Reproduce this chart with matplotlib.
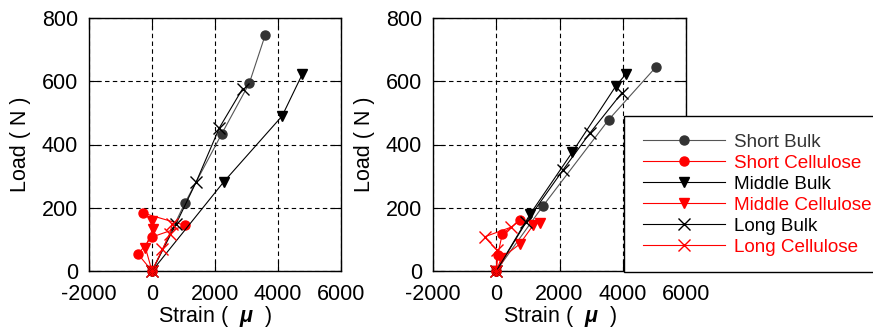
import matplotlib
matplotlib.use('Agg')
import matplotlib.pyplot as plt
from matplotlib.patches import Rectangle
from matplotlib.lines import Line2D

plt.rcParams['font.family'] = ['Liberation Sans', 'DejaVu Sans']
plt.rcParams['mathtext.fontset'] = 'custom'
plt.rcParams['mathtext.it'] = 'Liberation Sans:italic:bold'
plt.rcParams['mathtext.rm'] = 'Liberation Sans'
plt.rcParams['axes.unicode_minus'] = False

# left panel
l_sb_x = [0, 1040, 2210, 3090, 3590]
l_sb_y = [0, 214, 433, 594, 745]
l_sc_x = [0, -440, -15, 1060, -280]
l_sc_y = [0, 53, 107, 144, 183]
l_mb_x = [0, 2270, 4130, 4770]
l_mb_y = [0, 281, 490, 622]
l_mc_x = [0, -210, 20, -15]
l_mc_y = [0, 74, 134, 157]
l_lb_x = [0, 760, 1400, 2140, 2880]
l_lb_y = [0, 148, 281, 453, 577]
l_lc_x = [0, 330, 560, 650]
l_lc_y = [0, 68, 118, 150]

# right panel
r_sb_x = [0, 1480, 3560, 5050]
r_sb_y = [0, 206, 479, 645]
r_sc_x = [0, 50, 190, 760]
r_sc_y = [0, 50, 118, 160]
r_mb_x = [0, 1080, 2400, 3790, 4110]
r_mb_y = [0, 181, 375, 586, 624]
r_mc_x = [0, 160, 740, 1170, 1380]
r_mc_y = [0, 40, 85, 145, 153]
r_lb_x = [0, 950, 2100, 2960, 3970]
r_lb_y = [0, 155, 318, 436, 563]
r_lc_x = [0, 30, -370, 480]
r_lc_y = [0, 65, 108, 139]

names = ['Short Bulk', 'Short Cellulose', 'Middle Bulk',
         'Middle Cellulose', 'Long Bulk', 'Long Cellulose']
line_cols = ['#555555', 'red', 'black', 'red', 'black', 'red']
mark_cols = ['#333333', 'red', 'black', 'red', 'black', 'red']
text_cols = ['#333333', 'red', 'black', 'red', 'black', 'red']
markers = ['o', 'o', 'v', 'v', 'x', 'x']

fig = plt.figure(figsize=(8.73, 3.31), dpi=100)
W, H = 873, 331
ax1 = fig.add_axes([89 / W, 1 - 271 / H, 252 / W, 253 / H])
ax2 = fig.add_axes([433 / W, 1 - 271 / H, 253 / W, 253 / H])

panels = [
    (ax1, [(l_sb_x, l_sb_y), (l_sc_x, l_sc_y), (l_mb_x, l_mb_y),
           (l_mc_x, l_mc_y), (l_lb_x, l_lb_y), (l_lc_x, l_lc_y)]),
    (ax2, [(r_sb_x, r_sb_y), (r_sc_x, r_sc_y), (r_mb_x, r_mb_y),
           (r_mc_x, r_mc_y), (r_lb_x, r_lb_y), (r_lc_x, r_lc_y)]),
]

for ax, series in panels:
    for i, (xs, ys) in enumerate(series):
        ms = 8 if markers[i] == 'x' else 6.5
        ax.plot(xs, ys, color=line_cols[i], lw=0.8, marker=markers[i],
                ms=ms, mfc=mark_cols[i], mec=mark_cols[i], mew=1.0,
                clip_on=False, zorder=3)
    ax.set_xlim(-2000, 6000)
    ax.set_ylim(0, 800)
    ax.set_xticks([-2000, 0, 2000, 4000, 6000])
    ax.set_yticks([0, 200, 400, 600, 800])
    ax.grid(True, color='black', lw=0.8, linestyle=(0, (4, 3)))
    ax.tick_params(direction='in', length=8, width=0.8, top=True, right=True,
                   labelsize=15.5, colors='black')
    ax.tick_params(axis='x', pad=9.5)
    ax.tick_params(axis='y', pad=8)
    for s in ax.spines.values():
        s.set_linewidth(1.0)
    ax.set_xlabel('Strain (  $\\mu$  )', fontsize=15.5, labelpad=-1)
    ax.set_ylabel('Load ( N )', fontsize=15.5, labelpad=8)

# legend box running off the right edge
box = Rectangle((624 / W, 1 - 272 / H), 260 / W, 156 / H,
                transform=fig.transFigure, facecolor='white',
                edgecolor='black', lw=1.0, zorder=5)
fig.patches.append(box)

handles = []
for i in range(6):
    ms = 8 if markers[i] == 'x' else 6.5
    handles.append(Line2D([0], [0], color=line_cols[i], lw=0.8,
                          marker=markers[i], ms=ms, mfc=mark_cols[i],
                          mec=mark_cols[i]))
leg = fig.legend(handles, names, loc='upper left',
                 bbox_to_anchor=(634 / W, 1 - 124 / H), frameon=False,
                 fontsize=13.6, handlelength=4.3, handletextpad=0.5,
                 labelspacing=0.2, borderpad=0)
leg.set_zorder(6)
for t, c in zip(leg.get_texts(), text_cols):
    t.set_color(c)

fig.savefig('out.png', dpi=100)
